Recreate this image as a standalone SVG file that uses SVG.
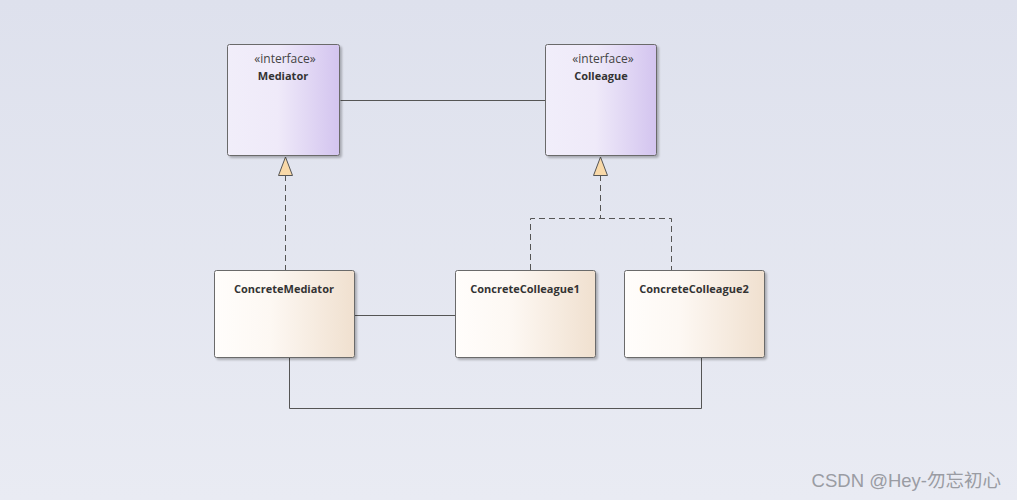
<svg xmlns="http://www.w3.org/2000/svg" width="1017" height="500" viewBox="0 0 1017 500">
<defs>
<linearGradient id="bg" x1="0" y1="0" x2="0" y2="1"><stop offset="0" stop-color="#dee1ed"/><stop offset="1" stop-color="#e9ebf3"/></linearGradient>
<linearGradient id="iface" x1="0" y1="0" x2="1" y2="0"><stop offset="0" stop-color="#f1eefa"/><stop offset="0.45" stop-color="#efeaf9"/><stop offset="1" stop-color="#d3c4ef"/></linearGradient>
<linearGradient id="cls" x1="0" y1="0" x2="1" y2="0"><stop offset="0" stop-color="#fffdfb"/><stop offset="0.4" stop-color="#fdf8f3"/><stop offset="1" stop-color="#f0e0cf"/></linearGradient>
<filter id="sh" x="-10%" y="-10%" width="130%" height="130%"><feDropShadow dx="2" dy="2" stdDeviation="1.2" flood-color="#000" flood-opacity="0.25"/></filter>
</defs>
<style>
.box{stroke:#6b6b6b;stroke-width:1;filter:url(#sh)}
.t{font-family:"Open Sans","Noto Sans",sans-serif;font-size:11px;fill:#333;text-anchor:middle}
.b{font-weight:bold}
.st{fill:#444;font-size:12px}
.ln{stroke:#555;stroke-width:1;fill:none}
.d{stroke-dasharray:6,4}
.tri{fill:#f9d9a8;stroke:#555;stroke-width:1}
</style>
<rect width="1017" height="500" fill="url(#bg)"/>
<g id="connectors">
<path class="ln" d="M340.5,100.5H545"/>
<path class="ln" d="M355,315.5H455"/>
<path class="ln" d="M289.5,358V408.5H701.5V358"/>
<path class="ln d" d="M285.5,175V270"/>
<path class="ln d" d="M600.5,175V218.5M530.5,270V218.5H671.5V270"/>
<polygon class="tri" points="285.5,157 278.5,175.5 292.5,175.5"/>
<polygon class="tri" points="600.5,157 593.5,175.5 607.5,175.5"/>
</g>
<g id="Mediator">
<rect class="box" x="227.5" y="44.5" width="112" height="111" rx="2" fill="url(#iface)"/>
<text class="t st" x="285" y="63">«interface»</text>
<text class="t b" x="283" y="80">Mediator</text>
</g>
<g id="Colleague">
<rect class="box" x="545.5" y="44.5" width="111" height="111" rx="2" fill="url(#iface)"/>
<text class="t st" x="603" y="63">«interface»</text>
<text class="t b" x="601" y="80">Colleague</text>
</g>
<g id="ConcreteMediator">
<rect class="box" x="214.5" y="270.5" width="140" height="87" rx="2" fill="url(#cls)"/>
<text class="t b" x="284" y="293">ConcreteMediator</text>
</g>
<g id="ConcreteColleague1">
<rect class="box" x="455.5" y="270.5" width="140" height="87" rx="2" fill="url(#cls)"/>
<text class="t b" x="525" y="293">ConcreteColleague1</text>
</g>
<g id="ConcreteColleague2">
<rect class="box" x="624.5" y="270.5" width="140" height="87" rx="2" fill="url(#cls)"/>
<text class="t b" x="694" y="293">ConcreteColleague2</text>
</g>
<text x="1001" y="487" text-anchor="end" font-family="'Liberation Sans','Noto Sans CJK SC',sans-serif" font-size="18.5" fill="#9a9ca3">CSDN @Hey-勿忘初心</text>
</svg>
